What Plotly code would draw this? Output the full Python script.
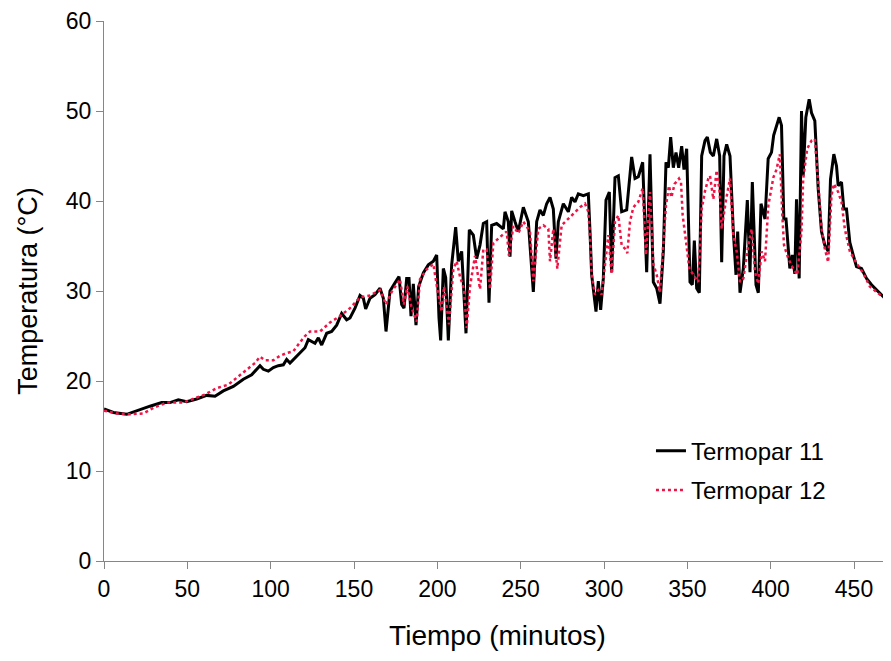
import plotly.graph_objects as go

# Termopar 11 (black, solid)
t11 = [0, 5.6, 13.6, 19.6, 27.6, 34.6, 39.6, 44.6, 49.6, 55.6, 61.6, 66.6, 71.6, 77.6, 83.6, 88.6,
       91.6, 93.6, 95.6, 98.6, 101.6, 104.6, 107.6, 109.6, 111.6, 114.6, 117.2, 120.6, 122.6, 124.6,
       126.6, 128.6, 130.6, 133.6, 136.6, 139.6, 142.6, 145.6, 147.6, 150.6, 153.6, 155.6, 157.0,
       159.6, 162.6, 165.6, 167.6, 169.2, 171.6, 174.6, 177.0, 178.6, 180.0, 181.6, 183.0, 184.2,
       185.6, 187.2, 188.8, 191.6, 194.6, 197.6, 199.6, 201.0, 202.0, 203.6, 205.0, 206.6, 208.6,
       211.0, 212.6, 214.6, 217.2, 219.2, 221.6, 223.6, 225.6, 227.6, 229.6, 231.0, 232.6, 235.6,
       239.6, 240.6, 242.6, 243.6, 244.6, 246.6, 248.6, 251.6, 254.6, 257.6, 259.6, 261.6, 263.6,
       265.6, 267.6, 269.6, 271.2, 272.6, 275.6, 278.6, 280.6, 282.6, 284.6, 287.6, 290.6, 291.6,
       292.6, 295.2, 296.6, 298.0, 299.6, 301.2, 303.2, 304.6, 306.6, 308.6, 310.6, 313.6, 316.6,
       318.6, 320.6, 323.2, 325.6, 327.6, 329.6, 331.6, 333.6, 335.6, 337.2, 338.6, 340.0, 341.6,
       343.2, 344.8, 346.6, 348.0, 349.6, 351.6, 353.0, 354.2, 355.6, 357.2, 358.6, 360.6, 362.0,
       363.8, 365.6, 367.6, 369.4, 370.6, 372.0, 373.6, 375.6, 377.6, 379.2, 380.2, 381.6, 383.6,
       386.0, 387.6, 389.0, 391.2, 392.6, 394.2, 396.6, 398.5, 400.5, 401.8, 405.1, 406.5, 407.9,
       409.2, 410.6, 411.5, 413.0, 414.5, 415.5, 417.1, 418.5, 419.5, 421.1, 423.1, 424.5, 426.5,
       428.5, 430.5, 432.5, 434.5, 435.9, 437.9, 439.5, 440.5, 442.5, 443.9, 445.5, 447.5, 449.5,
       451.5, 454.5, 457.5, 460.5, 463.5, 466.5, 469.5, 472.0]
temp11 = [16.9, 16.5, 16.3, 16.7, 17.2, 17.6, 17.6, 17.9, 17.7, 18.0, 18.4, 18.3, 18.9, 19.4, 20.2, 20.7,
          21.3, 21.7, 21.3, 21.1, 21.5, 21.7, 21.8, 22.4, 22.0, 22.6, 23.1, 23.7, 24.6, 24.4,
          24.2, 24.8, 24.0, 25.3, 25.5, 26.2, 27.5, 26.8, 27.0, 28.1, 29.5, 29.2, 28.0,
          29.2, 29.6, 30.3, 29.2, 25.5, 30.0, 30.9, 31.6, 28.5, 28.1, 31.4, 31.4, 27.2,
          30.8, 26.2, 30.5, 32.0, 32.9, 33.3, 34.0, 27.0, 24.5, 32.5, 31.5, 24.5, 32.9,
          37.1, 33.3, 34.4, 25.3, 36.8, 36.2, 33.6, 35.1, 37.5, 37.7, 28.7, 37.3, 37.5,
          36.9, 38.8, 37.7, 33.8, 38.9, 37.7, 36.6, 39.3, 37.7, 29.9, 37.7, 39.0, 38.4,
          39.7, 40.4, 39.1, 33.6, 37.7, 39.7, 38.8, 40.4, 39.9, 40.8, 40.6, 40.8, 36.6,
          31.8, 27.7, 31.1, 27.9, 31.4, 40.1, 41.0, 32.1, 42.6, 42.8, 38.8, 39.0, 44.9,
          42.5, 42.7, 44.3, 32.1, 45.2, 31.0, 30.3, 28.6, 34.4, 44.3, 43.7, 47.1, 43.7,
          45.4, 43.7, 46.1, 43.5, 45.8, 31.0, 30.7, 35.6, 30.3, 29.8, 45.0, 46.7, 47.1,
          45.4, 45.0, 46.9, 45.0, 33.2, 45.0, 46.3, 45.0, 36.6, 31.8, 36.6, 29.8, 32.5,
          40.1, 32.1, 42.1, 30.7, 29.8, 39.7, 38.0, 44.7, 45.4, 47.3, 49.3, 48.4, 38.0,
          38.0, 34.0, 32.5, 34.0, 31.9, 40.2, 31.4, 50.0, 42.8, 49.3, 51.3, 49.8, 48.9,
          41.4, 36.6, 35.1, 34.4, 42.4, 45.2, 43.9, 41.7, 42.1, 39.1, 39.1, 35.4, 34.0,
          32.7, 32.5, 31.4, 30.7, 30.1, 29.6, 29.0, 29.0]

# Termopar 12 (red, dotted)
t12 = [0, 7.6, 15.6, 23.6, 30.6, 37.6, 47.6, 53.6, 60.6, 67.6, 74.6, 80.6, 85.6, 90.6, 93.6, 96.6,
       101.6, 105.6, 109.6, 113.6, 117.2, 120.6, 123.6, 129.6, 135.6, 141.6, 147.6, 153.6, 159.6,
       165.6, 169.2, 172.6, 177.6, 179.9, 182.0, 184.6, 187.6, 189.6, 193.6, 197.6, 200.0, 202.6,
       204.0, 207.0, 209.6, 211.6, 213.6, 216.0, 217.6, 219.6, 222.6, 225.6, 227.6, 229.6, 231.6,
       233.6, 237.6, 241.6, 243.0, 245.6, 248.6, 251.6, 255.6, 257.6, 260.6, 263.6, 266.6, 267.6,
       269.6, 272.0, 274.6, 278.6, 282.6, 285.6, 288.6, 290.6, 291.6, 292.6, 294.6, 296.6, 298.6,
       300.6, 302.6, 304.6, 306.6, 308.6, 309.6, 310.6, 312.6, 314.0, 315.6, 317.6, 320.6, 323.2,
       325.2, 327.6, 329.6, 331.6, 333.6, 335.6, 337.2, 339.0, 340.4, 342.4, 345.0, 346.2, 347.2,
       349.2, 351.2, 353.6, 356.6, 358.6, 360.6, 362.6, 363.6, 365.6, 367.6, 369.4, 370.6, 373.0,
       375.6, 377.6, 379.6, 381.6, 383.6, 386.6, 388.6, 390.6, 392.6, 394.6, 396.6, 398.6, 401.6,
       403.5, 405.5, 407.0, 408.0, 410.6, 413.5, 416.0, 418.5, 419.5, 421.9, 424.5, 426.5, 428.5,
       430.5, 432.5, 434.5, 436.5, 437.9, 440.5, 442.5, 444.5, 447.5, 451.5, 455.5, 459.5, 465.5,
       470.5, 472.0]
temp12 = [16.7, 16.4, 16.3, 16.4, 17.1, 17.6, 17.6, 18.0, 18.5, 19.2, 19.6, 20.5, 21.3, 22.0, 22.7, 22.3,
          22.3, 22.8, 23.1, 23.3, 24.2, 25.0, 25.5, 25.5, 26.5, 27.2, 28.1, 29.3, 29.5,
          30.1, 28.5, 29.9, 31.3, 28.5, 30.5, 28.1, 26.6, 31.3, 32.4, 33.0, 30.2, 27.7,
          30.5, 26.3, 32.4, 33.3, 31.6, 30.2, 25.9, 30.5, 33.9, 30.2, 34.6, 34.6, 30.2,
          35.3, 36.0, 36.6, 33.9, 37.2, 36.4, 37.7, 36.6, 31.1, 36.9, 37.3, 36.9, 33.3,
          36.9, 32.5, 37.3, 38.0, 38.8, 39.3, 39.7, 38.8, 36.2, 31.8, 29.6, 30.1, 29.6,
          33.3, 36.2, 31.9, 37.7, 38.4, 36.9, 35.1, 34.7, 34.2, 37.7, 39.3, 39.9, 41.4,
          34.0, 41.0, 33.0, 31.8, 29.9, 35.1, 39.5, 41.7, 40.4, 41.9, 42.5, 42.1, 38.4,
          35.5, 32.5, 31.8, 31.0, 39.1, 41.1, 42.5, 42.8, 40.2, 43.4, 41.0, 36.9, 39.9,
          42.5, 36.2, 34.4, 31.0, 31.4, 35.1, 36.9, 32.1, 30.8, 34.4, 33.3, 39.5, 42.6,
          43.5, 45.2, 38.4, 35.1, 33.6, 32.5, 31.8, 36.6, 42.4, 45.8, 46.7, 46.9, 42.1,
          37.0, 34.7, 33.2, 40.6, 41.9, 41.0, 39.9, 36.9, 34.4, 33.1, 32.0, 30.5, 29.6,
          29.0, 28.8]

x_ticks = [0, 50, 100, 150, 200, 250, 300, 350, 400, 450]
y_ticks = [0, 10, 20, 30, 40, 50, 60]

FONT = "Liberation Sans, Arial, sans-serif"

fig = go.Figure()
fig.add_trace(go.Scatter(x=t11, y=temp11, mode="lines", name="Termopar 11",
                         legendgroup="a", line=dict(color="black", width=3)))
fig.add_trace(go.Scatter(x=t12, y=temp12, mode="lines", name="Termopar 12",
                         legendgroup="b", line=dict(color="#f01446", width=2.5, dash="dot")))

fig.update_layout(
    width=883, height=653,
    margin=dict(l=96, r=0, t=10, b=100),
    paper_bgcolor="white", plot_bgcolor="white",
    font=dict(family=FONT, color="black"),
    showlegend=True,
    legend=dict(x=0.695, y=0.245, xanchor="left", yanchor="top",
                font=dict(size=24, family=FONT, color="black"),
                bgcolor="rgba(0,0,0,0)", tracegroupgap=5),
    xaxis=dict(range=[0, 472.2], tickvals=x_ticks, ticks="outside", ticklen=7,
               tickcolor="#868686", showline=True, linecolor="#868686", linewidth=1,
               showgrid=False, zeroline=False, tickfont=dict(size=23),
               ticklabeloverflow="allow",
               title=dict(text="Tiempo (minutos)", font=dict(size=28), standoff=24)),
    yaxis=dict(range=[0, 60], tickvals=y_ticks, ticks="outside", ticklen=7,
               tickcolor="#868686", showline=True, linecolor="#868686", linewidth=1,
               showgrid=False, zeroline=False, tickfont=dict(size=23),
               ticklabeloverflow="allow",
               title=dict(text="Temperatura (°C)", font=dict(size=27), standoff=20)),
)

fig.write_html("out.html")
